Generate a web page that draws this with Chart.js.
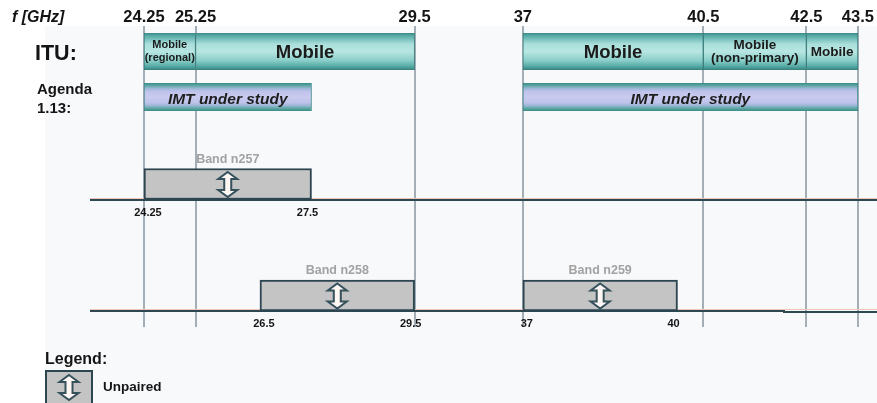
<!DOCTYPE html>
<html lang="en">
<head>
<meta charset="UTF-8">
<title>mmWave bands - ITU / Agenda 1.13 / NR bands</title>
<script src="https://cdn.jsdelivr.net/npm/chart.js@4.4.1/dist/chart.umd.min.js"></script>
<style>
    html, body { margin: 0; padding: 0; background: #ffffff; }
    #wrap { position: relative; width: 877px; height: 403px; }
</style>
</head>
<body>
<div id="wrap"><canvas id="bandChart"></canvas></div>
<script>
// frequency marks along the top (GHz)
const topTicks = [24.25, 25.25, 29.5, 37, 40.5, 42.5, 43.5];

// ITU allocations
const ituStart = [24.25, 25.25, 37, 40.5, 42.5];
const ituEnd = [25.25, 29.5, 40.5, 42.5, 43.5];
const ituNames = [['Mobile', '(regional)'], ['Mobile'], ['Mobile'], ['Mobile', '(non-primary)'], ['Mobile']];

// Agenda item 1.13
const agendaStart = [24.25, 37];
const agendaEnd = [27.5, 43.5];
const agendaName = 'IMT under study';

// NR bands (all unpaired)
const bandNames = ['n257', 'n258', 'n259'];
const bandStart = [24.25, 26.5, 37];
const bandEnd = [27.5, 29.5, 40];
const bandLine = [0, 1, 1];

// --- layout (not data) ---
const FONT = "'Liberation Sans', Arial, Helvetica, sans-serif";
const ROW = { itu: 51.5, agenda: 97, bands: [184, 295.5] };
const ITU_H = 37, AGENDA_H = 28, BAND_H = 31;

// the 29.5 - 37 GHz gap is squeezed on the axis
const BREAK_LO = 29.5, BREAK_HI = 37, BREAK_SPAN = 2.1;
function ax(f) {
    if (f <= BREAK_LO) return f;
    if (f >= BREAK_HI) return f - (BREAK_HI - BREAK_LO) + BREAK_SPAN;
    return BREAK_LO + (f - BREAK_LO) / (BREAK_HI - BREAK_LO) * BREAK_SPAN;
}
const X_MIN = 21.457, X_MAX = 38.47;

function fnt(size, style) { return (style || 'normal') + ' bold ' + size + 'px ' + FONT; }

function rowGradient(ctx, rowY, h, stops) {
    const chart = ctx.chart;
    if (!chart.chartArea) return stops[Math.floor(stops.length / 2)][1];
    const yc = chart.scales.y.getPixelForValue(rowY);
    const g = chart.ctx.createLinearGradient(0, yc - h / 2, 0, yc + h / 2);
    stops.forEach(s => g.addColorStop(s[0], s[1]));
    return g;
}
const ituStops = [[0, '#3a8a87'], [0.08, '#58aca8'], [0.3, '#aadfdb'], [0.5, '#b8e6e2'], [0.75, '#88cdc8'], [0.92, '#4ea49f'], [1, '#387f7c']];
const agendaStops = [[0, '#3c8a88'], [0.1, '#5fa9a6'], [0.2, '#9fb8d8'], [0.3, '#bfc2ea'], [0.5, '#c9cbef'], [0.7, '#bfc2ea'], [0.8, '#9fb8d8'], [0.9, '#5fa9a6'], [1, '#3c8a88']];

function drawArrow(c, cx, cy, h) {
    const top = cy - h / 2, bot = cy + h / 2, hw = 9.5, sw = 3.5, hh = 7;
    c.beginPath();
    c.moveTo(cx, top);
    c.lineTo(cx + hw, top + hh);
    c.lineTo(cx + sw, top + hh);
    c.lineTo(cx + sw, bot - hh);
    c.lineTo(cx + hw, bot - hh);
    c.lineTo(cx, bot);
    c.lineTo(cx - hw, bot - hh);
    c.lineTo(cx - sw, bot - hh);
    c.lineTo(cx - sw, top + hh);
    c.lineTo(cx - hw, top + hh);
    c.closePath();
    c.fillStyle = '#fff7f4';
    c.fill();
    c.strokeStyle = '#34515c';
    c.lineWidth = 2;
    c.lineJoin = 'miter';
    c.stroke();
}

function hline(c, x1, x2, y) {
    c.beginPath(); c.moveTo(x1, y); c.lineTo(x2, y); c.stroke();
}

const bandPlugin = {
    id: 'bandPlugin',
    beforeDraw(chart) {
        const c = chart.ctx;
        c.save();
        c.fillStyle = '#ffffff';
        c.fillRect(0, 0, chart.width, chart.height);
        c.fillStyle = '#f8f9fb';
        c.fillRect(45, 26, chart.width - 45, chart.height - 26);
        c.restore();
    },
    beforeDatasetsDraw(chart) {
        const c = chart.ctx, xs = chart.scales.x, ys = chart.scales.y;
        c.save();
        // vertical frequency lines
        c.strokeStyle = '#a4aeb7';
        c.lineWidth = 2;
        topTicks.forEach(f => {
            const px = Math.round(xs.getPixelForValue(ax(f)));
            c.beginPath(); c.moveTo(px, 26); c.lineTo(px, 327); c.stroke();
        });
        // band base lines
        ROW.bands.forEach((r, i) => {
            const by = Math.round(ys.getPixelForValue(r) + BAND_H / 2);
            c.strokeStyle = '#efc3b6'; c.lineWidth = 1;
            hline(c, 90, chart.width, by - 1.5);
            c.strokeStyle = '#2e4853'; c.lineWidth = 2;
            if (i === 1) {
                hline(c, 90, 785, by);
                hline(c, 783, chart.width, by + 1);
            } else {
                hline(c, 90, chart.width, by);
            }
        });
        c.restore();
    },
    afterDatasetsDraw(chart) {
        const c = chart.ctx, xs = chart.scales.x;
        c.save();
        c.textAlign = 'center';

        // ITU segment names
        chart.getDatasetMeta(0).data.forEach((el, i) => {
            const p = el.getProps(['x', 'base', 'y'], true);
            const w = Math.abs(p.x - p.base), cx = (p.x + p.base) / 2;
            const lines = ituNames[i];
            let size = 18.5;
            if (lines.length > 1 || w < 150) {
                size = 13.5;
                while (size > 9) {
                    c.font = fnt(size);
                    if (Math.max(...lines.map(l => c.measureText(l).width)) <= w - 1) break;
                    size -= 0.5;
                }
            }
            c.font = fnt(size);
            c.fillStyle = '#1b1b1b';
            c.textBaseline = 'middle';
            if (lines.length === 1) {
                c.fillText(lines[0], cx, p.y + 1);
            } else {
                c.fillText(lines[0], cx, p.y - 6.5);
                c.fillText(lines[1], cx, p.y + 6.5);
            }
        });

        // agenda text
        chart.getDatasetMeta(1).data.forEach(el => {
            const p = el.getProps(['x', 'base', 'y'], true);
            c.font = fnt(15.5, 'italic');
            c.fillStyle = '#1e1e1e';
            c.textBaseline = 'middle';
            c.fillText(agendaName, (p.x + p.base) / 2, p.y + 2.5);
        });

        // bands: arrows, names, edge frequencies
        chart.getDatasetMeta(2).data.forEach((el, i) => {
            const p = el.getProps(['x', 'base', 'y'], true);
            const top = p.y - BAND_H / 2, bot = p.y + BAND_H / 2;
            drawArrow(c, (p.x + p.base) / 2, p.y + 0.5, 25);
            c.textBaseline = 'alphabetic';
            c.font = fnt(12.5);
            c.fillStyle = '#a2a2a2';
            c.fillText('Band ' + bandNames[i], (p.x + p.base) / 2, top - 6);
            c.font = fnt(11);
            c.fillStyle = '#151515';
            c.fillText(String(bandStart[i]), p.base + 4, bot + 16);
            c.fillText(String(bandEnd[i]), p.x - 4, bot + 16);
        });

        // top frequency labels
        c.textBaseline = 'alphabetic';
        c.font = fnt(16.5);
        c.fillStyle = '#141414';
        topTicks.forEach(f => {
            c.fillText(String(f), xs.getPixelForValue(ax(f)), 22);
        });

        // row titles
        c.textAlign = 'left';
        c.font = fnt(16, 'italic');
        c.fillText('f [GHz]', 12, 22);
        c.font = fnt(21.5);
        c.fillText('ITU:', 35, 60);
        c.font = fnt(15);
        c.fillText('Agenda', 37, 94);
        c.fillText('1.13:', 37, 113);

        // legend
        c.font = fnt(16);
        c.fillText('Legend:', 45, 364);
        c.fillStyle = '#c4c4c4';
        c.fillRect(46, 371, 46, 34);
        c.strokeStyle = '#2d4550';
        c.lineWidth = 2;
        c.strokeRect(46, 371, 46, 34);
        drawArrow(c, 69, 387.5, 25);
        c.font = fnt(13.5);
        c.fillStyle = '#151515';
        c.textBaseline = 'middle';
        c.fillText('Unpaired', 103, 387);
        c.restore();
    }
};

const ctx = document.getElementById('bandChart').getContext('2d');
const bandChart = new Chart(ctx, {
    type: 'bar',
    data: {
        datasets: [{
            label: 'ITU',
            data: ituStart.map((s, i) => ({ x: [ax(s), ax(ituEnd[i])], y: ROW.itu })),
            barThickness: ITU_H,
            backgroundColor: c => rowGradient(c, ROW.itu, ITU_H, ituStops),
            borderColor: '#3b7f7c',
            borderWidth: { left: 1, right: 1, top: 0, bottom: 0 },
            borderSkipped: false,
            grouped: false
        }, {
            label: 'Agenda 1.13',
            data: agendaStart.map((s, i) => ({ x: [ax(s), ax(agendaEnd[i])], y: ROW.agenda })),
            barThickness: AGENDA_H,
            backgroundColor: c => rowGradient(c, ROW.agenda, AGENDA_H, agendaStops),
            borderColor: '#3c8a88',
            borderWidth: { left: 1, right: 1, top: 0, bottom: 0 },
            borderSkipped: false,
            grouped: false
        }, {
            label: 'Unpaired',
            data: bandStart.map((s, i) => ({ x: [ax(s), ax(bandEnd[i])], y: ROW.bands[bandLine[i]] })),
            barThickness: BAND_H,
            backgroundColor: '#c4c4c4',
            borderColor: '#2d4550',
            borderWidth: 2,
            borderSkipped: false,
            grouped: false
        }]
    },
    options: {
        indexAxis: 'y',
        responsive: true,
        maintainAspectRatio: false,
        animation: false,
        layout: { padding: 0 },
        plugins: {
            legend: { display: false },
            tooltip: { enabled: false }
        },
        scales: {
            x: { type: 'linear', min: X_MIN, max: X_MAX, offset: false, display: false },
            y: { type: 'linear', min: 0, max: 403, reverse: true, offset: false, display: false }
        }
    },
    plugins: [bandPlugin]
});
</script>
</body>
</html>
